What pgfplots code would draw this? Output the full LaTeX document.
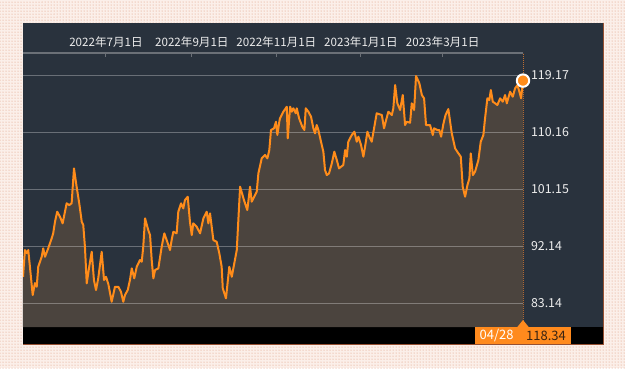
\documentclass[border=0pt]{standalone}
\usepackage{pgfplots}
\pgfplotsset{compat=1.18}
\usepackage{pgfplotstable}
\usepackage{fontspec}
\usetikzlibrary{patterns}
\newfontfamily\jp{Noto Sans CJK JP}
\definecolor{panel}{HTML}{29323D}
\definecolor{fillbrown}{HTML}{4B443E}
\definecolor{lineorange}{HTML}{FF8C1A}
\definecolor{gridgray}{HTML}{6B7077}
\definecolor{dotorange}{HTML}{BE6E32}
\definecolor{labelgray}{HTML}{EDEDED}
\definecolor{boxorange}{HTML}{FF8A1D}
\definecolor{boxdark}{HTML}{3A2412}
\definecolor{bgdots}{HTML}{DC9474}
\definecolor{bgbase}{HTML}{FBEFE9}
\definecolor{shadowline}{HTML}{965032}

\pgfplotstableread{
d v
-59.9 87.34
-58.5 91.56
-57.3 91.09
-56.1 91.56
-54.9 88.92
-52.9 84.45
-51.3 86.35
-50.0 85.76
-48.9 88.92
-46.4 90.50
-45.3 91.83
-44.0 90.50
-41.7 91.83
-39.2 93.41
-38.1 94.20
-36.8 96.04
-35.2 97.62
-33.2 96.82
-31.3 95.78
-29.6 97.62
-28.4 98.94
-26.5 98.67
-24.8 98.94
-23.1 104.47
-21.2 101.57
-19.3 98.94
-17.5 96.04
-16.4 95.51
-15.2 92.08
-13.9 86.30
-12.1 88.92
-10.3 91.29
-8.7 86.82
-7.2 85.24
-5.6 87.09
-3.1 91.29
-1.4 86.82
0.0 87.34
1.7 86.19
4.1 83.39
6.5 85.76
8.9 85.76
10.8 84.97
12.5 83.39
13.7 84.45
15.7 85.24
17.3 86.82
18.6 88.67
20.4 87.09
22.2 88.92
24.5 89.98
25.8 89.71
26.9 92.08
28.2 96.57
30.5 94.72
31.8 93.93
33.0 89.98
34.2 87.09
35.4 88.40
37.8 88.67
40.2 92.08
42.1 94.20
43.8 93.14
46.2 91.56
47.4 93.14
48.6 94.45
51.0 94.20
52.2 97.62
54.2 98.94
55.8 98.15
57.0 99.46
59.0 99.99
60.6 96.04
61.9 93.93
63.0 95.78
65.5 95.24
67.9 94.20
70.3 96.57
72.7 97.62
73.9 95.78
75.1 97.36
76.3 95.24
77.5 93.14
79.9 92.87
81.8 91.04
83.5 88.92
84.3 85.51
86.6 83.93
89.0 88.92
90.8 87.34
94.4 91.56
96.8 101.57
99.6 99.46
102.0 97.88
104.0 101.57
105.2 99.20
108.8 100.78
110.0 103.68
112.4 106.05
114.8 106.58
116.5 106.05
117.9 107.37
119.1 110.53
121.3 110.80
122.7 111.84
123.7 109.74
125.1 111.84
125.6 112.37
128.0 113.42
130.5 114.21
131.2 109.21
132.9 114.21
134.1 113.42
135.2 113.96
137.0 113.17
137.7 113.96
139.4 112.37
141.7 111.05
143.2 110.53
144.2 113.96
146.1 113.42
148.0 112.63
149.7 110.80
150.9 110.00
152.1 111.32
153.3 110.53
155.2 108.68
156.9 107.10
158.1 104.20
159.4 103.41
161.0 103.68
163.0 105.26
164.8 107.10
166.6 105.79
168.2 104.47
171.3 105.00
172.6 107.37
173.8 106.31
174.9 108.68
177.4 109.74
179.3 110.26
181.0 108.68
182.2 109.47
184.1 108.16
185.8 106.31
187.0 107.89
188.7 110.26
190.1 109.47
191.8 108.68
193.5 110.80
195.4 113.17
199.1 112.90
200.7 110.80
202.2 112.11
203.8 113.42
206.3 112.90
207.4 113.96
208.7 117.64
210.3 114.75
212.3 113.69
214.2 116.06
215.9 111.32
217.1 111.84
219.5 111.68
220.7 114.75
222.4 113.69
223.8 119.06
226.2 117.91
228.0 116.06
229.6 115.54
231.0 111.32
233.9 111.32
235.9 109.74
236.8 110.80
239.2 110.53
240.6 110.53
241.9 109.47
243.5 111.47
245.1 112.90
247.1 113.84
248.4 111.84
249.6 110.00
252.0 107.63
254.4 106.84
256.1 106.31
257.5 101.57
259.2 99.99
260.9 101.83
262.3 102.89
263.3 106.84
264.8 103.41
266.4 103.94
268.8 105.79
270.5 108.68
272.4 109.74
273.6 112.37
275.3 115.54
276.7 115.27
277.8 116.85
279.2 115.00
280.9 114.75
282.5 114.48
284.5 115.54
286.4 115.00
288.1 116.06
289.3 114.75
291.7 116.58
293.6 115.79
295.3 117.12
297.0 117.64
298.4 116.58
299.6 115.54
301.0 118.34
}\pricedata

\begin{document}
\begin{tikzpicture}[x=1pt,y=1pt]
% background
\fill[bgbase] (0,0) rectangle (625,368);
\fill[pattern=dots, pattern color=bgdots] (0,0) rectangle (625,368);
% panel
\fill[panel] (23,24) rectangle (603,345);
\fill[black] (23,24) rectangle (603,41);
\draw[shadowline, line width=0.8pt] (23,23.6) -- (603.4,23.6) -- (603.4,345);
\begin{axis}[
  at={(23pt,41pt)}, anchor=south west,
  width=500pt, height=274pt, scale only axis,
  xmin=-59.9, xmax=301, ymin=79.40, ymax=122.70,
  axis x line*=top, axis y line*=right,
  x axis line style={draw=gridgray, line width=1.5pt},
  y axis line style={draw=dotorange, densely dotted, line width=1pt},
  tick align=inside,
  xtick={0,62,123,184,243},
  xticklabels={2022年7月1日,2022年9月1日,2022年11月1日,2023年1月1日,2023年3月1日},
  xtick style={draw=gridgray, line width=1pt},
  major tick length=4pt,
  ytick={83.14,92.14,101.15,110.16,119.17},
  yticklabels={83.14,92.14,101.15,110.16,119.17},
  ytick style={draw=none},
  tick label style={text=labelgray},
  xticklabel style={font=\jp\fontsize{11.6}{13}\selectfont, yshift=2pt},
  yticklabel style={font=\jp\fontsize{12.4}{14}\selectfont, anchor=west, xshift=4.5pt},
  clip mode=individual,
]
\addplot[fill=fillbrown, draw=none] table[x=d,y=v]{\pricedata} \closedcycle;
\addplot[white, opacity=0.3, line width=1.5pt] coordinates {(-59.9,83.14) (301,83.14)};
\addplot[white, opacity=0.3, line width=1.5pt] coordinates {(-59.9,92.14) (301,92.14)};
\addplot[white, opacity=0.3, line width=1.5pt] coordinates {(-59.9,101.15) (301,101.15)};
\addplot[white, opacity=0.3, line width=1.5pt] coordinates {(-59.9,110.16) (301,110.16)};
\addplot[white, opacity=0.3, line width=1.5pt] coordinates {(-59.9,119.17) (301,119.17)};
\addplot[lineorange, line width=2pt, line join=round] table[x=d,y=v]{\pricedata};
\addplot[only marks, mark=*, mark size=6.2pt, mark options={fill=lineorange, draw=white, line width=2pt}] coordinates {(301,118.34)};
\end{axis}
% last value label
\fill[boxorange] (475,24) rectangle (571,41);
\fill[boxorange] (516.5,40) -- (523,48) -- (529.5,40) -- cycle;
\node[font=\jp\fontsize{13}{15}\selectfont, text=white, anchor=west, inner sep=0pt] at (479.5,32.5) {04/28};
\node[font=\jp\fontsize{13}{15}\selectfont, text=boxdark, anchor=west, inner sep=0pt] at (526,32.5) {118.34};
\end{tikzpicture}
\end{document}
